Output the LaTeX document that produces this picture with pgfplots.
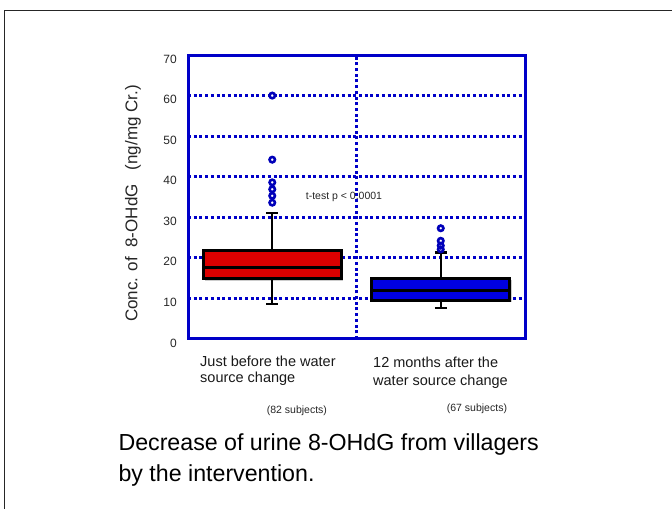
\documentclass[border=0pt]{standalone}
\usepackage{pgfplots}
\pgfplotsset{compat=1.18}
\usepackage{fontspec}
\setmainfont{Liberation Sans}
\definecolor{axblue}{RGB}{0,0,200}
\definecolor{boxred}{RGB}{220,0,0}
\definecolor{boxblue}{RGB}{0,0,225}
\definecolor{outblue}{RGB}{0,0,185}
\begin{document}
\begin{tikzpicture}
\path[use as bounding box] (0,0) rectangle (672bp,509bp);
\draw[line width=1.3bp, black!85] (4.5bp,0) -- (4.5bp,498.5bp) -- (672bp,498.5bp);
\begin{axis}[
  at={(188bp,170bp)}, anchor=south west,
  scale only axis, width=337bp, height=284bp,
  xmin=0, xmax=2, ymin=0, ymax=70,
  xtick={1}, xticklabels={},
  ytick={0,10,...,70},
  major tick length=0pt,
  xmajorgrids, ymajorgrids,
  grid style={axblue, line width=2.8bp, dash pattern=on 3bp off 2.7bp},
  axis line style={axblue, line width=3bp},
  /pgf/number format/assume math mode=true,
  yticklabel style={font=\fontsize{12bp}{14bp}\selectfont, anchor=east, inner sep=0pt, xshift=-11bp, yshift=-4bp, text=black!85},
  clip=false,
]
% shadows
\addplot[fill=black!20, draw=none] coordinates {(0.10,14.4) (0.922,14.4) (0.922,21.3) (0.10,21.3)} -- cycle;
\addplot[fill=black!20, draw=none] coordinates {(1.10,9.2) (1.922,9.2) (1.922,14.6) (1.10,14.6)} -- cycle;
% whiskers (before)
\addplot[black, line width=2.2bp] coordinates {(0.5,21.7) (0.5,31.0)};
\addplot[black, line width=2.2bp] coordinates {(0.5,14.8) (0.5,8.6)};
\addplot[black, line width=2.4bp] coordinates {(0.465,31.0) (0.535,31.0)};
\addplot[black, line width=2.4bp] coordinates {(0.465,8.6) (0.535,8.6)};
% red box
\addplot[fill=boxred, draw=black, line width=3bp, line join=miter] coordinates {(0.09,14.8) (0.91,14.8) (0.91,21.7) (0.09,21.7)} -- cycle;
\addplot[black, line width=3bp] coordinates {(0.09,17.6) (0.91,17.6)};
% whiskers (after)
\addplot[black, line width=2.2bp] coordinates {(1.5,15.0) (1.5,21.3)};
\addplot[black, line width=2.2bp] coordinates {(1.5,9.6) (1.5,7.6)};
\addplot[black, line width=2.4bp] coordinates {(1.465,21.3) (1.535,21.3)};
\addplot[black, line width=2.4bp] coordinates {(1.465,7.6) (1.535,7.6)};
% blue box
\addplot[fill=boxblue, draw=black, line width=3bp, line join=miter] coordinates {(1.09,9.6) (1.91,9.6) (1.91,15.0) (1.09,15.0)} -- cycle;
\addplot[black, line width=3bp] coordinates {(1.09,11.9) (1.91,11.9)};
% outliers
\addplot[only marks, mark=o, mark size=2.7bp, mark options={draw=outblue, fill=white, line width=2.6bp}]
  coordinates {(0.5,60) (0.5,44.2) (0.5,38.6) (0.5,36.9) (0.5,35.3) (0.5,33.6)
               (1.5,27.3) (1.5,24.2) (1.5,23.0) (1.5,22.1)};
\end{axis}
\node[rotate=90, font=\fontsize{17bp}{19bp}\selectfont, text=black!85] at (133bp,305.5bp) {Conc. of\ \ 8-OHdG\ \ \ (ng/mg Cr.)};
\node[anchor=west, inner sep=0, font=\fontsize{10.5bp}{12bp}\selectfont, text=black!85] at (305.7bp,312bp) {t-test p < 0.0001};
\begin{scope}[every node/.style={anchor=base west, inner sep=0, font=\fontsize{14.5bp}{16bp}\selectfont, text=black!90}]
\node at (200bp,142.5bp) {Just before the water};
\node at (200bp,126bp) {source change};
\node at (373bp,141bp) {12 months after the};
\node at (373bp,123bp) {water source change};
\end{scope}
\begin{scope}[every node/.style={anchor=base west, inner sep=0, font=\fontsize{10.5bp}{12bp}\selectfont, text=black!85}]
\node at (266.7bp,95bp) {(82 subjects)};
\node at (446.7bp,97.3bp) {(67 subjects)};
\end{scope}
\begin{scope}[every node/.style={anchor=base west, inner sep=0, font=\fontsize{23.2bp}{26bp}\selectfont, text=black}]
\node at (118.3bp,58.3bp) {Decrease of urine 8-OHdG from villagers};
\node at (118.3bp,27.3bp) {by the intervention.};
\end{scope}
\end{tikzpicture}
\end{document}
